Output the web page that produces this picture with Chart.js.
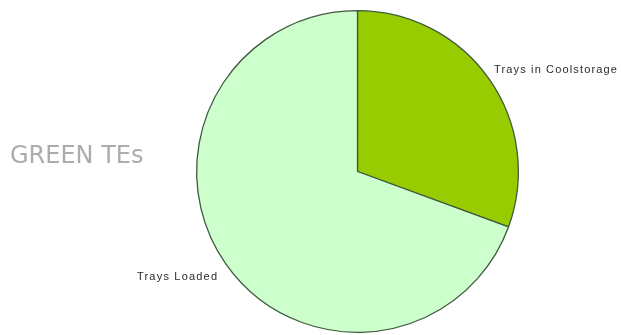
<!DOCTYPE html>
<html><head><meta charset="utf-8">
<script src="https://cdn.jsdelivr.net/npm/chart.js@4"></script>
<style>html,body{margin:0;padding:0;background:#fff}#wrap{width:621px;height:335px;position:relative}</style>
</head><body><div id="wrap"><canvas id="c"></canvas></div>
<script>
const categories = ["Trays in Coolstorage", "Trays Loaded"];
const values = [30.6, 69.4];
const colors = ["#99cc00", "#ccffcc"];
const title = "GREEN TEs";

const labelPlugin = {
  id: 'labels',
  afterDraw(chart) {
    const ctx = chart.ctx;
    ctx.save();
    ctx.fillStyle = '#acacac';
    ctx.font = '24px "DejaVu Sans"';
    ctx.textBaseline = 'alphabetic';
    ctx.fillText(title, 10, 163);
    ctx.fillStyle = '#2a2a2a';
    ctx.font = '11px "Liberation Sans"';
    ctx.letterSpacing = '1.15px';
    ctx.fillText(categories[0], 494, 73);
    ctx.letterSpacing = '1.2px';
    ctx.fillText(categories[1], 137, 280);
    ctx.restore();
  }
};

new Chart(document.getElementById('c'), {
  type: 'pie',
  data: { labels: categories, datasets: [{ data: values, backgroundColor: colors, borderColor: '#3f5a3f', borderWidth: 1.3 }] },
  options: {
    responsive: true, maintainAspectRatio: false, animation: false,
    layout: { padding: { left: 196, right: 102, top: 10, bottom: 2 } },
    plugins: { legend: { display: false }, tooltip: { enabled: false } }
  },
  plugins: [labelPlugin]
});
</script></body></html>
